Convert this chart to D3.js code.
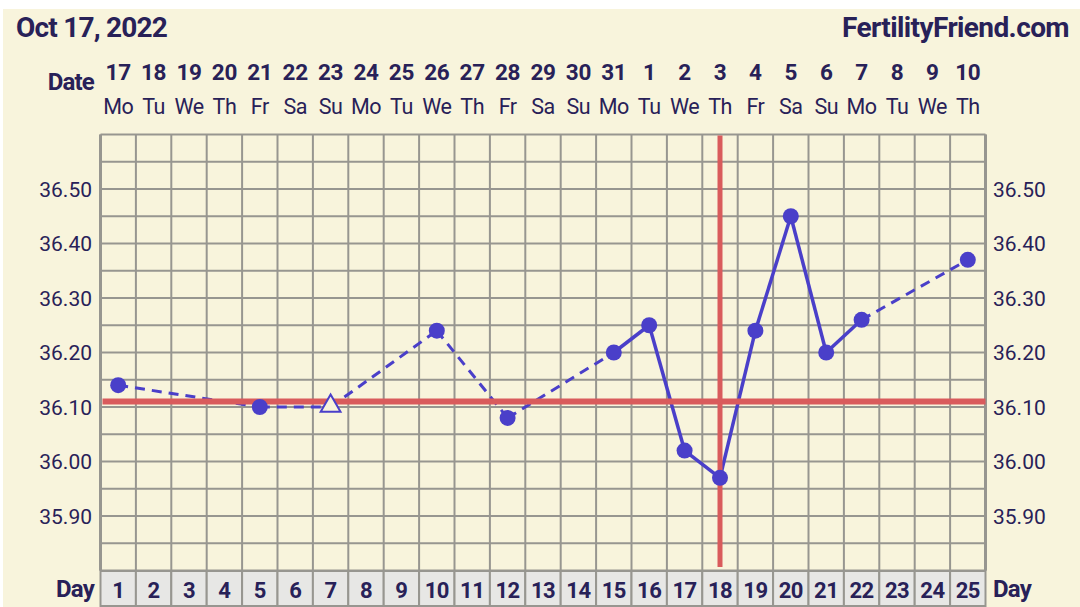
<!DOCTYPE html>
<html><head><meta charset="utf-8">
<script src="https://cdn.jsdelivr.net/npm/d3@7"></script>
<style>body{margin:0;background:#fff}svg{display:block}text{font-family:Roboto,"Noto Sans",sans-serif}</style>
</head><body><svg id="c" width="1080" height="607"></svg>
<script>
const title = "Oct 17, 2022";
const site = "FertilityFriend.com";
const days = d3.range(1, 26);
const dates = ["17","18","19","20","21","22","23","24","25","26","27","28","29","30","31","1","2","3","4","5","6","7","8","9","10"];
const weekdays = ["Mo","Tu","We","Th","Fr","Sa","Su","Mo","Tu","We","Th","Fr","Sa","Su","Mo","Tu","We","Th","Fr","Sa","Su","Mo","Tu","We","Th"];
const temps = [36.14,null,null,null,36.10,null,36.10,null,null,36.24,null,36.08,null,null,36.20,36.25,36.02,35.97,36.24,36.45,36.20,36.26,null,null,36.37];
const openDays = [7];
const yTicks = [35.90,36.00,36.10,36.20,36.30,36.40,36.50];
const coverline = 36.11;
const ovulationDay = 18;

const svg = d3.select("#c");
const ink = "#282158", lineC = "#4a3fc9", red = "#d95b5c", grid = "#979690";
const L = 100.5, R = 985.5, T = 134.5, B = 570.5;
const x = d3.scaleBand().domain(days).range([L, R]);
const y = d3.scaleLinear().domain([35.80, 36.60]).range([B, T]);
const cx = d => x(d) + x.bandwidth()/2;

svg.append("rect").attr("x",3).attr("y",9).attr("width",1077).attr("height",598).attr("fill","#f8f4dc");

// gridlines
const g = svg.append("g");
g.selectAll("line.h").data(d3.range(35.80, 36.601, 0.05)).join("line")
  .attr("x1",L).attr("x2",R).attr("y1",d=>y(d)).attr("y2",d=>y(d))
  .attr("stroke",grid).attr("stroke-width",2);
g.selectAll("line.v").data(d3.range(0,26)).join("line")
  .attr("x1",i=>L+i*x.bandwidth()).attr("x2",i=>L+i*x.bandwidth())
  .attr("y1",T).attr("y2",B).attr("stroke",grid).attr("stroke-width",2);
g.append("line").attr("x1",L).attr("x2",L).attr("y1",T).attr("y2",B).attr("stroke",grid).attr("stroke-width",3);
g.append("line").attr("x1",R).attr("x2",R).attr("y1",T).attr("y2",B).attr("stroke",grid).attr("stroke-width",3);

// y labels
const yl = svg.append("g").attr("font-size",21).attr("fill",ink);
yl.selectAll("text.l").data(yTicks).join("text").attr("x",92).attr("y",d=>y(d)+7.5)
  .attr("text-anchor","end").text(d=>d.toFixed(2));
yl.selectAll("text.r").data(yTicks).join("text").attr("x",993).attr("y",d=>y(d)+7.5)
  .attr("text-anchor","start").text(d=>d.toFixed(2));

// day row
const dr = svg.append("g");
dr.selectAll("rect").data(days).join("rect").attr("x",d=>x(d)).attr("y",571).attr("width",x.bandwidth()).attr("height",35)
  .attr("fill","#e7e7e5").attr("stroke",grid).attr("stroke-width",2);
dr.selectAll("text").data(days).join("text").attr("x",cx).attr("y",598).attr("text-anchor","middle")
  .attr("font-size",22).attr("font-weight","bold").attr("fill",ink).attr("letter-spacing",-0.5).text(d=>d);
svg.append("text").attr("x",94).attr("y",597).attr("text-anchor","end").attr("font-size",24).attr("font-weight","bold").attr("fill",ink).attr("letter-spacing",-0.8).text("Day");
svg.append("text").attr("x",993).attr("y",597).attr("font-size",24).attr("font-weight","bold").attr("fill",ink).attr("letter-spacing",-0.8).text("Day");

// header
svg.append("text").attr("x",16).attr("y",37).attr("font-size",28).attr("font-weight","bold").attr("fill",ink).attr("letter-spacing",-0.8).text(title);
svg.append("text").attr("x",1069).attr("y",37).attr("text-anchor","end").attr("font-size",28).attr("font-weight","bold").attr("fill",ink).attr("letter-spacing",-0.6).text(site);
svg.append("text").attr("x",94).attr("y",90).attr("text-anchor","end").attr("font-size",24).attr("font-weight","bold").attr("fill",ink).attr("letter-spacing",-0.8).text("Date");
svg.selectAll("text.dt").data(days).join("text").attr("class","dt").attr("x",cx).attr("y",80).attr("text-anchor","middle")
  .attr("font-size",22.5).attr("font-weight","bold").attr("fill",ink).attr("letter-spacing",-0.3).text((d,i)=>dates[i]);
svg.selectAll("text.wd").data(days).join("text").attr("class","wd").attr("x",cx).attr("y",114).attr("text-anchor","middle")
  .attr("font-size",21.5).attr("fill",ink).attr("letter-spacing",-0.5).text((d,i)=>weekdays[i]);

// temperature lines
const pts = days.map((d,i)=>({d, v: temps[i]})).filter(p=>p.v!==null);
const segs = [];
for (let i=1;i<pts.length;i++) segs.push([pts[i-1], pts[i]]);
const lg = svg.append("g");
lg.selectAll("line").data(segs).join("line")
  .attr("x1",s=>cx(s[0].d)).attr("y1",s=>y(s[0].v)).attr("x2",s=>cx(s[1].d)).attr("y2",s=>y(s[1].v))
  .attr("stroke",lineC).attr("stroke-width",s=>(s[1].d-s[0].d===1)?3.5:3)
  .attr("stroke-dasharray",s=>(s[1].d-s[0].d===1)?null:"10,7");

// coverline & ovulation
svg.append("line").attr("x1",L+2).attr("x2",R).attr("y1",y(coverline)).attr("y2",y(coverline)).attr("stroke",red).attr("stroke-width",6);
svg.append("line").attr("x1",cx(ovulationDay)).attr("x2",cx(ovulationDay)).attr("y1",T+1).attr("y2",567).attr("stroke",red).attr("stroke-width",5);

// points
const filled = pts.filter(p=>!openDays.includes(p.d));
svg.selectAll("circle.p").data(filled).join("circle").attr("cx",p=>cx(p.d)).attr("cy",p=>y(p.v)).attr("r",8).attr("fill",lineC);
const tri = d3.symbol().type(d3.symbolTriangle).size(170);
svg.selectAll("path.t").data(pts.filter(p=>openDays.includes(p.d))).join("path")
  .attr("transform",p=>`translate(${cx(p.d)},${y(p.v)-1})`).attr("d",tri())
  .attr("fill","#f8f4dc").attr("stroke",lineC).attr("stroke-width",2);
</script></body></html>
